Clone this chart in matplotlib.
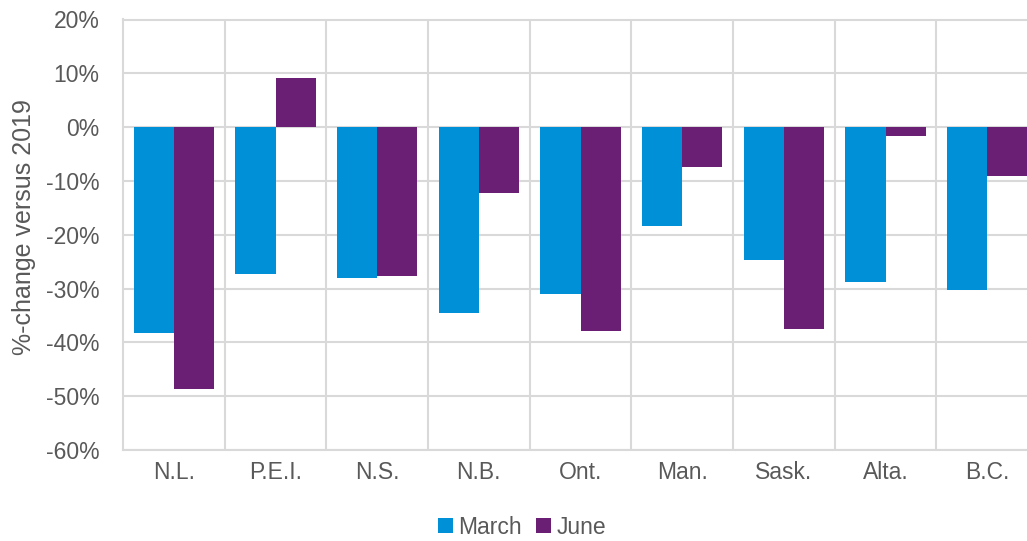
import numpy as np
import matplotlib.pyplot as plt
from matplotlib.ticker import FuncFormatter

plt.rcParams['font.family'] = ['Liberation Sans', 'DejaVu Sans']

provinces = ['N.L.', 'P.E.I.', 'N.S.', 'N.B.', 'Ont.', 'Man.', 'Sask.', 'Alta.', 'B.C.']
march = [-38.3, -27.3, -28.1, -34.6, -31.0, -18.3, -24.7, -28.8, -30.2]
june = [-48.6, 9.1, -27.6, -12.2, -37.9, -7.4, -37.5, -1.7, -9.0]
yticks = [20, 10, 0, -10, -20, -30, -40, -50, -60]

blue = '#0090D8'
purple = '#6B1F74'
grid = '#D9D9D9'
txt = '#595959'

fig = plt.figure(figsize=(10.27, 5.41), dpi=100)
ax = fig.add_axes([123 / 1027, 91 / 541, 915 / 1027, 430.5 / 541])

x = np.arange(len(provinces))
w = 0.395
ax.bar(x - w / 2, march, w, color=blue, label='March', zorder=3)
ax.bar(x + w / 2, june, w, color=purple, label='June', zorder=3)

ax.set_xlim(-0.5, len(provinces) - 0.5)
ax.set_ylim(-60, 20)
ax.set_yticks(yticks)
ax.yaxis.set_major_formatter(FuncFormatter(lambda v, p: f'{v:.0f}%'))
ax.set_xticks(x)
ax.set_xticklabels(provinces)
ax.set_xticks(x[:-1] + 0.5, minor=True)

ax.grid(axis='y', color=grid, linewidth=1.5, zorder=0)
ax.grid(axis='x', which='minor', color=grid, linewidth=1.5, zorder=0)
for s in ax.spines.values():
    s.set_color(grid)
    s.set_linewidth(1.5)

ax.tick_params(axis='both', which='both', length=0, labelsize=16.5, colors=txt)
ax.tick_params(axis='y', pad=17)
ax.tick_params(axis='x', pad=8)

fig.text(24 / 1027, 1 - 227 / 541, '%-change versus 2019', rotation=90,
         ha='center', va='center', fontsize=18, color=txt)

fig.legend(loc='center', bbox_to_anchor=(522 / 1027, 14 / 541), ncol=2,
           frameon=False, fontsize=16.5, labelcolor=txt, handlelength=0.65,
           handleheight=0.65, handletextpad=0.25, columnspacing=0.6)

fig.savefig('out.png', dpi=100)
